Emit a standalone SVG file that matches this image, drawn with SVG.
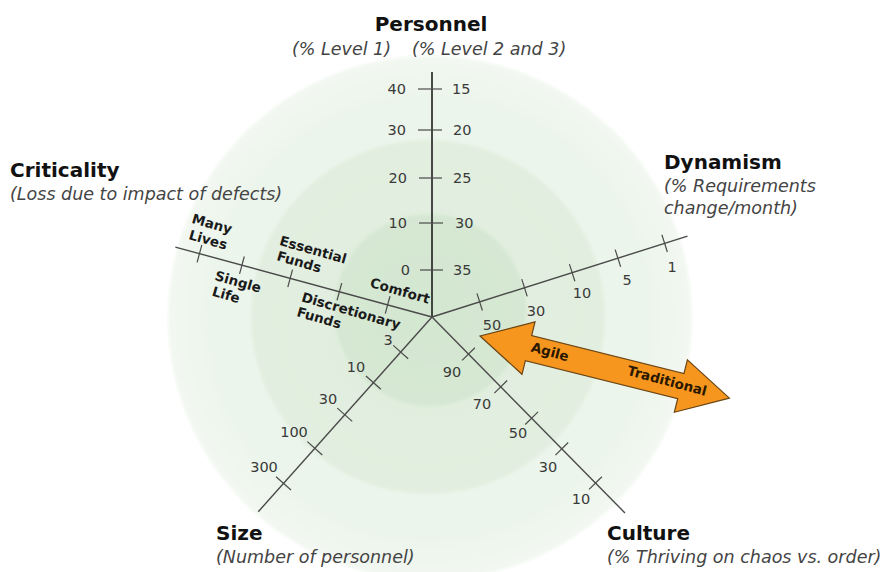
<svg xmlns="http://www.w3.org/2000/svg" width="885" height="572" viewBox="0 0 885 572">
<defs>
<radialGradient id="gOuter" cx="0.5" cy="0.5" r="0.5">
<stop offset="0" stop-color="#e9f3e8"/>
<stop offset="0.85" stop-color="#ecf5eb"/>
<stop offset="1" stop-color="#f3f8f2"/>
</radialGradient>
<radialGradient id="gMid" cx="0.5" cy="0.5" r="0.5">
<stop offset="0" stop-color="#e0eddd"/>
<stop offset="1" stop-color="#e2efe0"/>
</radialGradient>
<radialGradient id="gIn" cx="0.5" cy="0.5" r="0.5">
<stop offset="0" stop-color="#d3e6d0"/>
<stop offset="1" stop-color="#d6e8d3"/>
</radialGradient>
<filter id="soft" x="-10%" y="-10%" width="120%" height="120%"><feGaussianBlur stdDeviation="1.5"/></filter>
</defs>
<style>
.title{font-family:"DejaVu Sans",Verdana,sans-serif;font-weight:bold;font-size:20px;fill:#111}
.sub{font-family:"DejaVu Sans",Verdana,sans-serif;font-style:italic;font-size:17.5px;fill:#444}
.num{font-family:"DejaVu Sans",Verdana,sans-serif;font-size:14.5px;fill:#3a3a3a}
.crit{font-family:"DejaVu Sans",Verdana,sans-serif;font-weight:bold;font-size:13.5px;fill:#1a1a1a}
.arr{font-family:"DejaVu Sans",Verdana,sans-serif;font-weight:bold;font-size:13.5px;fill:#2a1800}
.axis{stroke:#4a4a4a;stroke-width:1.4;fill:none}
.tick{stroke:#4a4a4a;stroke-width:1.2}
</style>
<rect width="885" height="572" fill="#ffffff"/>
<g id="rings" filter="url(#soft)">
<circle cx="430" cy="318" r="262" fill="url(#gOuter)"/>
<circle cx="428" cy="317" r="177" fill="url(#gMid)"/>
<circle cx="430" cy="310" r="96" fill="url(#gIn)"/>
</g>
<g id="connectors">
<g id="axis-personnel">
<line x1="432" y1="317" x2="432" y2="72" stroke="#111" stroke-width="1.5"/>
<line class="tick" x1="418" y1="89" x2="442" y2="89"/>
<line class="tick" x1="418" y1="130" x2="442" y2="130"/>
<line class="tick" x1="419" y1="178" x2="442" y2="178"/>
<line class="tick" x1="419" y1="223" x2="443" y2="223"/>
<line class="tick" x1="420" y1="270" x2="443" y2="270"/>
</g>
<g id="axis-dynamism" transform="translate(432,317) rotate(-17.56)">
<line class="axis" x1="0" y1="0" x2="268" y2="0"/>
<line class="tick" x1="50" y1="-9" x2="50" y2="9"/>
<line class="tick" x1="97" y1="-9" x2="97" y2="9"/>
<line class="tick" x1="147" y1="-9" x2="147" y2="9"/>
<line class="tick" x1="195" y1="-9" x2="195" y2="9"/>
<line class="tick" x1="244" y1="-9" x2="244" y2="9"/>
</g>
<g id="axis-criticality" transform="translate(432,317) rotate(195.24)">
<line class="axis" x1="0" y1="0" x2="266" y2="0"/>
<line class="tick" x1="46" y1="-9" x2="46" y2="9"/>
<line class="tick" x1="96" y1="-9" x2="96" y2="9"/>
<line class="tick" x1="147" y1="-9" x2="147" y2="9"/>
<line class="tick" x1="197" y1="-9" x2="197" y2="9"/>
<line class="tick" x1="241" y1="-9" x2="241" y2="9"/>
</g>
<g id="axis-size" transform="translate(432,317) rotate(131.74)">
<line class="axis" x1="0" y1="0" x2="261" y2="0"/>
<line class="tick" x1="47" y1="-10" x2="47" y2="10"/>
<line class="tick" x1="88" y1="-10" x2="88" y2="10"/>
<line class="tick" x1="131" y1="-10" x2="131" y2="10"/>
<line class="tick" x1="176" y1="-10" x2="176" y2="10"/>
<line class="tick" x1="223" y1="-10" x2="223" y2="10"/>
</g>
<g id="axis-culture" transform="translate(432,317) rotate(45.44)">
<line class="axis" x1="0" y1="0" x2="275" y2="0"/>
<line class="tick" x1="52" y1="-9" x2="52" y2="9"/>
<line class="tick" x1="98" y1="-9" x2="98" y2="9"/>
<line class="tick" x1="142" y1="-9" x2="142" y2="9"/>
<line class="tick" x1="185" y1="-9" x2="185" y2="9"/>
<line class="tick" x1="233" y1="-9" x2="233" y2="9"/>
</g>
</g>
<g id="personnel">
<text class="title" x="431" y="31" text-anchor="middle">Personnel</text>
<text class="sub" x="292" y="55">(% Level 1)</text>
<text class="sub" x="412" y="55">(% Level 2 and 3)</text>
<g class="num" text-anchor="end">
<text x="406" y="94">40</text>
<text x="406" y="135">30</text>
<text x="407" y="183">20</text>
<text x="407" y="228">10</text>
<text x="410" y="275">0</text>
</g>
<g class="num">
<text x="452" y="94">15</text>
<text x="453" y="135">20</text>
<text x="453" y="183">25</text>
<text x="455" y="228">30</text>
<text x="453" y="275">35</text>
</g>
</g>
<g id="criticality">
<text class="title" x="10" y="177">Criticality</text>
<text class="sub" x="10" y="200">(Loss due to impact of defects)</text>
<g class="crit" text-anchor="middle">
<text transform="translate(212,224) rotate(16)" y="4.5">Many</text>
<text transform="translate(208,240) rotate(16)" y="4.5">Lives</text>
<text transform="translate(238,282) rotate(16)" y="4.5">Single</text>
<text transform="translate(226,295) rotate(16)" y="4.5">Life</text>
<text transform="translate(313,250) rotate(16)" y="4.5">Essential</text>
<text transform="translate(299,262) rotate(16)" y="4.5">Funds</text>
<text transform="translate(351,311) rotate(16)" y="4.5">Discretionary</text>
<text transform="translate(319,318) rotate(16)" y="4.5">Funds</text>
<text transform="translate(400,291) rotate(16)" y="4.5">Comfort</text>
</g>
</g>
<g id="dynamism">
<text class="title" x="664" y="169">Dynamism</text>
<text class="sub" x="664" y="192">(% Requirements</text>
<text class="sub" x="664" y="214">change/month)</text>
<g class="num" text-anchor="middle">
<text x="492" y="330">50</text>
<text x="536" y="316">30</text>
<text x="582" y="298">10</text>
<text x="627" y="285">5</text>
<text x="672" y="272">1</text>
</g>
</g>
<g id="size">
<text class="title" x="216" y="540">Size</text>
<text class="sub" x="216" y="563">(Number of personnel)</text>
<g class="num" text-anchor="middle">
<text x="388" y="345">3</text>
<text x="356" y="372">10</text>
<text x="328" y="404">30</text>
<text x="294" y="437">100</text>
<text x="264" y="472">300</text>
</g>
</g>
<g id="culture">
<text class="title" x="607" y="540">Culture</text>
<text class="sub" x="607" y="563">(% Thriving on chaos vs. order)</text>
<g class="num" text-anchor="middle">
<text x="452" y="377">90</text>
<text x="482" y="409">70</text>
<text x="518" y="438">50</text>
<text x="548" y="472">30</text>
<text x="581" y="504">10</text>
</g>
</g>
<g id="agile-traditional-arrow">
<polygon transform="translate(480,336) rotate(14)" points="0,0 50,-27 50,-13 207,-13 207,-27 257,0 207,27 207,13 50,13 50,27" fill="#f7961e" stroke="#6b4514" stroke-width="1.2" stroke-linejoin="miter"/>
<text class="arr" transform="translate(550,352) rotate(15)" y="4.5" text-anchor="middle">Agile</text>
<text class="arr" transform="translate(667,381) rotate(15)" y="4.5" text-anchor="middle">Traditional</text>
</g>
</svg>
